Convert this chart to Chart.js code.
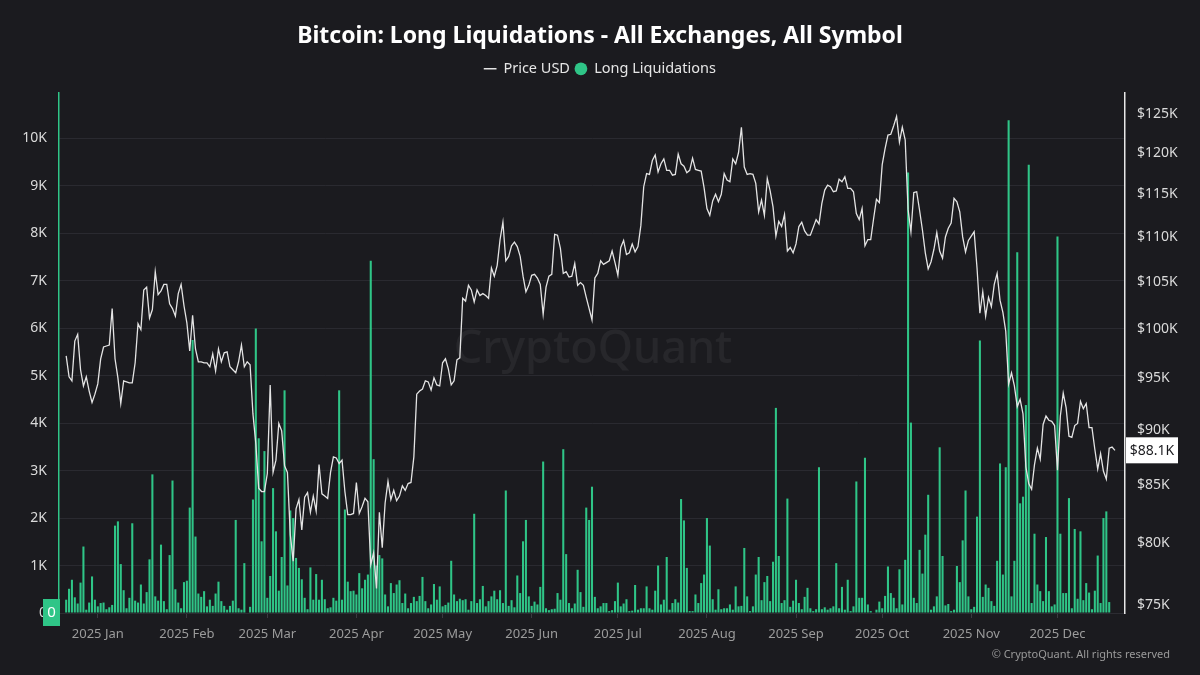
<!DOCTYPE html>
<html>
<head>
<meta charset="utf-8">
<script src="https://cdn.jsdelivr.net/npm/chart.js@4.4.1/dist/chart.umd.min.js"></script>
<style>
  html, body { margin: 0; padding: 0; background: #1b1b1f; }
  #wrap { width: 1200px; height: 675px; position: relative; }
</style>
</head>
<body>
<div id="wrap"><canvas id="c" width="1200" height="675"></canvas></div>
<script>
// ---- categories ----
const axisStartDate = '2024-12-19';   // first category on the axis
const axisDays = 371;                 // categories on the axis
const dataStartIndex = 2;             // first data point = 2024-12-21
const monthTickLabels = ['2025 Jan','2025 Feb','2025 Mar','2025 Apr','2025 May','2025 Jun',
                         '2025 Jul','2025 Aug','2025 Sep','2025 Oct','2025 Nov','2025 Dec'];
const leftTickLabels = ['0','1K','2K','3K','4K','5K','6K','7K','8K','9K','10K'];
const rightTickValues = [75,80,85,90,95,100,105,110,115,120,125]; // $K

// ---- Price USD, daily, in $K (2024-12-21 .. 2025-12-21) ----
const priceUSD = [
  97.2,95.1,94.7,98.7,99.4,95.8,94.2,95.1,93.7,92.6,93.4,
  94.4,96.9,98.1,98.2,98.3,102.1,96.9,95.0,92.5,94.7,94.6,94.5,94.5,96.5,100.5,99.9,104.1,104.4,101.1,102.0,106.1,103.6,104.0,104.7,104.7,102.6,102.1,101.3,103.7,104.7,102.4,
  100.6,97.7,101.4,97.9,96.6,96.6,96.5,96.5,96.1,97.4,95.7,97.9,96.6,97.5,97.6,96.1,95.8,95.5,96.6,98.3,96.1,96.6,96.3,91.5,88.7,84.7,84.4,84.4,
  86.0,94.3,86.1,87.2,90.6,89.9,86.7,86.1,80.7,78.5,82.9,83.7,81.1,83.9,84.3,82.6,84.0,82.7,86.8,84.2,84.0,83.8,86.1,87.5,87.4,86.9,87.2,84.4,82.4,82.4,82.5,
  85.2,82.5,83.1,83.8,83.5,78.2,79.2,76.3,82.6,79.6,83.4,85.3,83.7,84.5,83.6,84.0,84.9,84.5,85.1,85.2,87.5,93.4,93.7,93.9,94.7,94.6,93.8,95.0,94.3,94.2,
  96.5,96.9,95.9,94.3,94.7,96.8,97.0,103.2,102.9,104.6,104.1,102.8,104.1,103.5,103.7,103.5,103.2,106.5,105.6,106.8,109.7,111.7,107.3,107.8,109.0,109.4,108.9,107.8,105.6,103.9,104.6,
  105.7,105.8,105.4,104.7,101.5,104.4,105.6,105.8,110.3,110.2,108.7,105.9,106.1,105.5,105.6,107.0,104.6,104.9,104.6,103.3,102.1,100.9,105.4,105.9,107.3,106.9,107.1,107.3,108.4,107.1,
  105.7,108.8,109.6,108.0,108.2,109.2,108.3,108.9,111.3,115.9,117.5,117.4,119.1,119.8,117.7,118.7,119.3,117.9,117.9,117.3,117.4,119.9,118.7,118.4,117.6,117.9,119.4,118.0,117.9,117.8,115.8,
  113.3,112.5,114.2,115.0,114.1,115.0,117.5,116.7,116.5,119.3,118.7,120.1,123.3,118.3,117.4,117.5,117.4,116.3,112.9,114.3,112.5,116.9,115.4,113.5,110.1,111.8,111.2,112.6,108.4,108.8,108.2,
  109.2,111.2,111.7,110.7,110.2,110.2,111.1,112.0,111.5,113.9,115.5,116.1,115.9,115.3,115.4,116.8,116.5,117.1,115.7,115.7,115.3,112.7,112.0,113.3,109.0,109.7,109.7,112.1,114.4,114.0,
  118.6,120.6,122.3,122.4,123.5,124.7,121.4,123.3,121.7,113.2,110.6,115.2,115.3,113.1,110.8,108.2,106.4,107.2,108.6,110.5,108.4,107.6,110.0,111.0,111.6,114.5,114.1,112.9,110.0,108.3,109.6,
  110.1,110.6,106.5,101.6,103.9,101.3,103.3,102.3,104.7,105.9,103.0,101.7,99.7,94.4,95.5,94.2,92.2,92.9,91.5,86.6,85.1,84.6,86.8,88.3,87.3,90.5,91.3,90.9,90.8,90.4,
  86.3,91.3,93.5,92.1,89.4,89.3,90.4,90.6,92.7,92.0,92.5,90.2,90.2,88.2,86.4,87.8,86.2,85.5,88.3,88.4,88.1
];

// ---- Long Liquidations, daily, in K USD (2024-12-21 .. 2025-12-20) ----
const longLiquidations = [
  0.28,0.51,0.70,0.33,0.2,0.64,1.4,0.07,0.22,0.77,0.28,0.14,0.21,0.22,0.08,0.12,0.17,1.84,1.93,1.03,
  0.48,0.1,0.32,1.89,0.26,0.22,0.6,0.2,0.44,1.13,2.92,0.35,0.26,1.44,0.25,0.08,1.22,2.79,0.5,0.22,
  0.1,0.65,0.68,2.22,5.75,
  1.61,0.41,0.34,0.46,0.14,0.28,0.15,0.41,0.66,0.25,0.15,0.07,0.15,0.26,1.96,0.1,0.07,1.05,0.01,0.13,
  2.39,5.99,3.68,1.51,3.41,0.32,0.78,2.63,1.72,0.47,1.18,4.69,0.58,2.16,2.0,1.16,0.95,0.71,0.32,0.08,
  0.96,0.28,0.82,0.28,0.7,0.29,
  0.1,0.12,0.32,0.26,4.69,0.28,2.18,0.66,0.46,0.47,0.39,0.84,0.52,0.7,0.81,7.42,3.24,1.0,1.22,1.15,
  0.39,0.14,0.63,0.42,0.6,0.69,0.21,0.41,0.1,0.21,0.34,0.25,0.36,0.76,0.25,0.1,0.18,0.61,0.28,0.56,
  0.14,0.17,0.22,1.1,0.39,0.25,0.3,
  0.27,0.29,0.07,0.25,2.09,0.21,0.29,0.57,0.14,0.25,0.35,0.47,0.29,0.48,0.21,2.58,0.15,0.27,0.12,0.79,
  0.42,1.51,1.96,0.35,0.15,0.24,0.18,0.55,3.19,0.1,0.06,0.08,0.09,0.42,0.28,3.45,1.24,0.21,0.1,0.2,
  0.91,0.44,0.13,2.22,1.96,2.66,0.34,
  0.1,0.14,0.21,0.21,0.04,0.06,0.25,0.64,0.14,0.2,0.29,0.04,0.05,0.59,0.07,0.1,0.1,0.56,0.1,0.07,
  0.47,1.0,0.18,0.28,1.18,0.07,0.21,0.29,0.22,2.4,1.95,0.95,0.04,0.04,0.39,0.21,0.63,0.81,2.0,1.42,
  0.29,0.07,0.5,0.08,0.1,0.1,
  0.18,0.07,0.56,0.14,0.15,1.37,0.35,0.04,0.14,0.81,1.18,0.27,0.65,0.78,0.25,1.08,4.32,1.2,0.21,0.27,
  2.41,0.13,0.26,0.7,0.21,0.08,0.34,0.53,0.1,0.04,0.08,3.07,0.08,0.12,0.07,0.1,0.14,1.05,0.1,0.55,
  0.07,0.7,0.04,0.14,2.77,0.32,0.32,
  3.27,0.18,0.04,0.01,0.07,0.24,0.1,0.36,0.98,0.42,0.32,0.1,0.92,0.18,1.12,9.28,4.01,0.32,0.21,1.33,
  0.83,1.65,2.49,0.07,0.14,0.35,3.49,1.2,0.16,0.19,0.04,0.07,0.99,0.65,1.53,2.58,0.35,0.08,0.13,2.03,
  5.74,0.34,0.6,0.53,0.25,0.15,1.1,
  3.15,0.81,3.07,10.38,0.35,1.1,7.6,2.31,2.45,4.38,9.44,0.21,1.67,0.6,0.46,0.25,1.6,0.46,0.14,0.18,
  7.93,1.67,0.42,0.42,2.42,0.1,1.77,0.3,1.72,0.27,0.63,0.43,0.08,0.47,1.21,0.21,2.0,2.14,0.23,0
];

// ---- styles ----
const BG = '#1b1b1f';
const GREEN = '#2fc587';
const WHITE_LINE = '#e4e4e4';
const GRID = '#2a2a30';

// ---- build category axis + aligned series ----
const labels = [];
(function () {
  const d0 = new Date(axisStartDate + 'T00:00:00Z');
  for (let i = 0; i < axisDays; i++) {
    const d = new Date(d0.getTime() + i * 86400000);
    labels.push(d.toISOString().slice(0, 10));
  }
})();
function align(arr) {
  const out = new Array(axisDays).fill(null);
  arr.forEach((v, i) => { out[dataStartIndex + i] = v; });
  return out;
}
const priceSeries = align(priceUSD);
const liqSeries = align(longLiquidations);

const bgPlugin = {
  id: 'bg',
  beforeDraw(chart) {
    const { ctx, width, height } = chart;
    ctx.save();
    ctx.fillStyle = BG;
    ctx.fillRect(0, 0, width, height);
    ctx.restore();
  },
  beforeDatasetsDraw(chart) {
    const { ctx } = chart;
    ctx.save();
    ctx.fillStyle = 'rgba(255,255,255,0.055)';
    ctx.font = '500 45px "Noto Sans", sans-serif';
    ctx.textAlign = 'center';
    ctx.textBaseline = 'middle';
    ctx.fillText('CryptoQuant', 593, 350);
    ctx.restore();
  },
  afterDraw(chart) {
    const { ctx, chartArea } = chart;
    const y = chart.scales.y, y1 = chart.scales.y1;
    ctx.save();
    // last price marker
    const lastP = priceUSD[priceUSD.length - 1];
    const py = y1.getPixelForValue(lastP);
    ctx.fillStyle = '#ffffff';
    ctx.fillRect(chartArea.right + 1, py - 13, 52, 26);
    ctx.fillStyle = '#1b1b1f';
    ctx.font = '14px "Noto Sans", sans-serif';
    ctx.textAlign = 'center';
    ctx.textBaseline = 'middle';
    ctx.fillText('$' + lastP.toFixed(1) + 'K', chartArea.right + 27, py + 1);
    // last liquidation marker
    const lastL = longLiquidations[longLiquidations.length - 1];
    const ly = y.getPixelForValue(lastL);
    ctx.fillStyle = GREEN;
    ctx.fillRect(chartArea.left - 16, ly - 14, 17, 27);
    ctx.fillStyle = '#ffffff';
    ctx.font = '15px "Noto Sans", sans-serif';
    ctx.fillText(String(lastL), chartArea.left - 7.5, ly);
    // footer
    ctx.fillStyle = '#9a9a9a';
    ctx.font = '11px "Noto Sans", sans-serif';
    ctx.textAlign = 'right';
    ctx.fillText('\u00A9 CryptoQuant. All rights reserved', 1170, 655);
    ctx.restore();
  }
};

const legendSpace = {
  id: 'legendSpace',
  beforeInit(chart) {
    const origFit = chart.legend.fit;
    chart.legend.fit = function () {
      origFit.bind(chart.legend)();
      this.height += 7;
    };
  }
};

new Chart(document.getElementById('c'), {
  type: 'bar',
  data: {
    labels: labels,
    datasets: [
      {
        type: 'line',
        label: 'Price USD',
        data: priceSeries,
        yAxisID: 'y1',
        borderColor: WHITE_LINE,
        backgroundColor: WHITE_LINE,
        borderWidth: 1.3,
        pointRadius: 0,
        tension: 0,
        spanGaps: false,
        order: 0
      },
      {
        type: 'bar',
        label: 'Long Liquidations',
        data: liqSeries,
        yAxisID: 'y',
        backgroundColor: GREEN,
        borderWidth: 0,
        barPercentage: 0.72,
        categoryPercentage: 1.0,
        order: 1
      }
    ]
  },
  options: {
    responsive: false,
    animation: false,
    layout: { padding: { left: 0, right: 0, top: 0, bottom: 22 } },
    plugins: {
      title: {
        display: true,
        text: 'Bitcoin: Long Liquidations - All Exchanges, All Symbol',
        color: '#ffffff',
        font: { family: '"Noto Sans", sans-serif', size: 23, weight: 'bold' },
        padding: { top: 23, bottom: 6 }
      },
      legend: {
        display: true,
        labels: {
          color: '#e6e6e6',
          font: { family: '"Noto Sans", sans-serif', size: 14.5 },
          usePointStyle: true,
          boxWidth: 12,
          boxHeight: 9,
          padding: 5,
          generateLabels() {
            return [
              { text: 'Price USD', fillStyle: WHITE_LINE, strokeStyle: WHITE_LINE, lineWidth: 1.5,
                pointStyle: 'line', fontColor: '#e6e6e6', datasetIndex: 0, hidden: false },
              { text: 'Long Liquidations', fillStyle: GREEN, strokeStyle: GREEN, lineWidth: 0,
                pointStyle: 'circle', fontColor: '#e6e6e6', datasetIndex: 1, hidden: false }
            ];
          }
        }
      },
      tooltip: { enabled: false }
    },
    scales: {
      x: {
        type: 'category',
        offset: true,
        grid: { display: true, drawOnChartArea: false, drawTicks: true, tickLength: 5, offset: false, color: '#3a3a40' },
        border: { display: true, color: '#2c2c32' },
        afterBuildTicks(scale) {
          scale.ticks = scale.ticks.filter(t => {
            const l = labels[t.value];
            return l && l.endsWith('-01') && l.startsWith('2025');
          });
        },
        ticks: {
          autoSkip: false,
          maxRotation: 0,
          padding: 8,
          color: '#9b9b9b',
          font: { family: '"Noto Sans", sans-serif', size: 13 },
          callback(value) {
            const l = labels[value];
            return monthTickLabels[parseInt(l.slice(5, 7), 10) - 1];
          }
        },
        afterFit(scale) { scale.height = 40; }
      },
      y: {
        type: 'linear',
        position: 'left',
        min: 0,
        max: 10.95,
        grid: { color: GRID, drawTicks: false, lineWidth: 1 },
        border: { display: true, color: GREEN, width: 1.5 },
        afterBuildTicks(scale) {
          scale.ticks = leftTickLabels.map((_, i) => ({ value: i }));
        },
        ticks: {
          padding: 12,
          color: '#dadada',
          font: { family: '"Noto Sans", sans-serif', size: 14 },
          callback(value) { return leftTickLabels[Math.round(value)]; }
        },
        afterFit(scale) { scale.width = 59; }
      },
      y1: {
        type: 'logarithmic',
        position: 'right',
        min: 74.38,
        max: 127.76,
        grid: { display: false, drawOnChartArea: false, drawTicks: false },
        border: { display: true, color: '#e8e8e8', width: 1.5 },
        afterBuildTicks(scale) {
          scale.ticks = rightTickValues.map(v => ({ value: v }));
        },
        ticks: {
          padding: 12,
          color: '#dadada',
          font: { family: '"Noto Sans", sans-serif', size: 14 },
          callback(value) { return '$' + value + 'K'; }
        },
        afterFit(scale) { scale.width = 75; }
      }
    }
  },
  plugins: [bgPlugin, legendSpace]
});
</script>
</body>
</html>
